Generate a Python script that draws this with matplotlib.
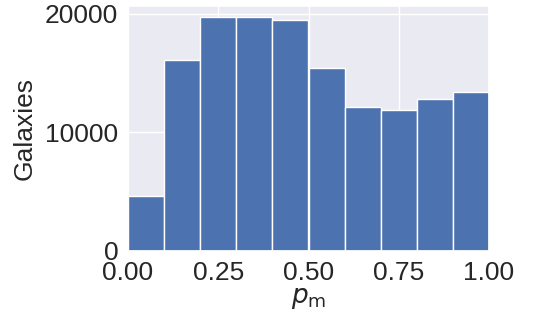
import numpy as np
import matplotlib
matplotlib.use("Agg")
import matplotlib.pyplot as plt
import seaborn as sns

# counts per p_m bin (10 bins over [0, 1])
bin_edges = np.linspace(0.0, 1.0, 11)
counts = [4600, 16070, 19690, 19690, 19460, 15390, 12130, 11850, 12800, 13370]

sns.set_theme(style="darkgrid")
plt.rcParams['font.family'] = ['Liberation Sans', 'DejaVu Sans']

fig = plt.figure(figsize=(5.48, 3.2), dpi=100)
ax = fig.add_axes([128 / 548, 1 - 251 / 320, (489 - 128) / 548, (251 - 6) / 320])

centers = 0.5 * (bin_edges[:-1] + bin_edges[1:])
ax.hist(centers, bins=bin_edges, weights=counts, color="#4c72b0", edgecolor="white", linewidth=1)

ax.set_xlim(0, 1)
ax.set_ylim(0, 20640)
ax.set_xticks([0, 0.25, 0.5, 0.75, 1.0])
ax.set_xticklabels(["0.00", "0.25", "0.50", "0.75", "1.00"])
ax.set_yticks([0, 10000, 20000])
ax.tick_params(axis="both", labelsize=19, pad=1)
ax.set_xlabel(r"$p_\mathrm{m}$", fontsize=19, labelpad=1)
ax.set_ylabel("Galaxies", fontsize=19, labelpad=6)

fig.savefig("out.png", dpi=100)
